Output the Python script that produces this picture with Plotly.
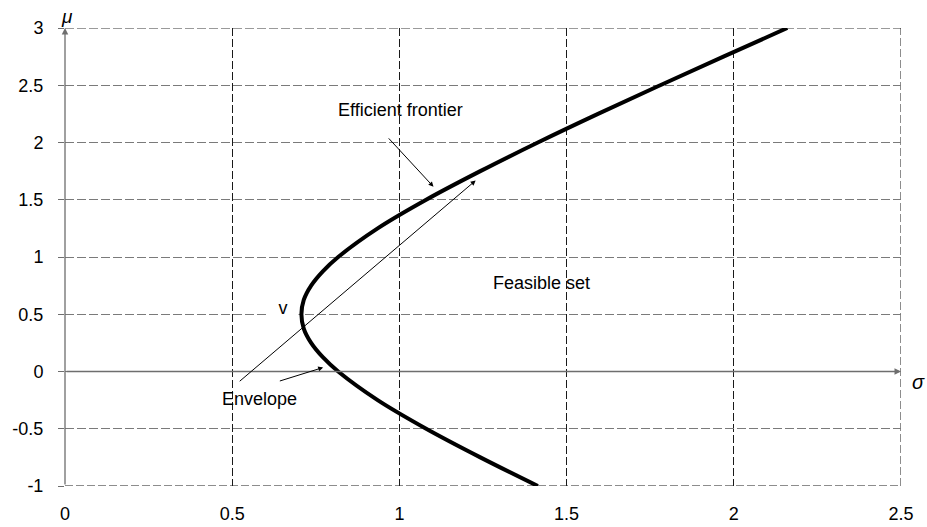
import plotly.graph_objects as go

# Envelope (minimum-variance frontier)
mu = [-1.0, -0.75, -0.5, -0.25, 0.0, 0.125, 0.25, 0.375, 0.5, 0.625, 0.75, 0.875,
      1.0, 1.25, 1.5, 1.75, 2.0, 2.25, 2.5, 2.75, 3.0]
sigma = [1.414, 1.242, 1.080, 0.935, 0.817, 0.771, 0.736, 0.714, 0.707, 0.714, 0.736, 0.771,
         0.817, 0.935, 1.080, 1.242, 1.414, 1.594, 1.780, 1.969, 2.160]

x_ticks = [0, 0.5, 1, 1.5, 2, 2.5]
x_tick_labels = ["0", "0.5", "1", "1.5", "2", "2.5"]
y_ticks = [-1, -0.5, 0, 0.5, 1, 1.5, 2, 2.5, 3]
y_tick_labels = ["-1", "-0.5", "0", "0.5", "1", "1.5", "2", "2.5", "3"]

FONT = "Liberation Sans, Arial, sans-serif"
FS = 18

fig = go.Figure()
fig.add_trace(go.Scatter(x=sigma, y=mu, mode="lines", line=dict(color="black", width=4, shape="spline"),
                         hoverinfo="skip", showlegend=False))

# edge grid lines (plotly drops grid lines on the range edges)
shapes = [
    dict(type="line", xref="x", yref="y", x0=x_ticks[0], x1=x_ticks[-1], y0=y_ticks[-1], y1=y_ticks[-1],
         line=dict(color="#7a7a7a", width=1.3, dash="9px,3px"), layer="below"),
    dict(type="line", xref="x", yref="y", x0=x_ticks[0], x1=x_ticks[-1], y0=y_ticks[0], y1=y_ticks[0],
         line=dict(color="#1a1a1a", width=1, dash="8px,3px"), layer="below"),
    dict(type="line", xref="x", yref="y", x0=x_ticks[-1], x1=x_ticks[-1], y0=y_ticks[0], y1=y_ticks[-1],
         line=dict(color="#1a1a1a", width=1, dash="8px,3px"), layer="below"),
]

annotations = []
# axes with arrows
annotations.append(dict(x=0, y=3, ax=0, ay=-1, xref="x", yref="y", axref="x", ayref="y", text="",
                        showarrow=True, arrowhead=2, arrowsize=1, arrowwidth=1.3, arrowcolor="#6e6e6e"))
annotations.append(dict(x=2.5, y=0, ax=0, ay=0, xref="x", yref="y", axref="x", ayref="y", text="",
                        showarrow=True, arrowhead=2, arrowsize=1, arrowwidth=1.3, arrowcolor="#6e6e6e"))
# pointer arrows
annotations.append(dict(x=1.102, y=1.613, ax=0.964, ay=2.049, xref="x", yref="y", axref="x", ayref="y", text="",
                        showarrow=True, arrowhead=2, arrowsize=1, arrowwidth=1, arrowcolor="black"))
annotations.append(dict(x=1.228, y=1.668, ax=0.518, ay=-0.096, xref="x", yref="y", axref="x", ayref="y", text="",
                        showarrow=True, arrowhead=2, arrowsize=1, arrowwidth=1, arrowcolor="black"))
annotations.append(dict(x=0.772, y=0.035, ax=0.638, ay=-0.087, xref="x", yref="y", axref="x", ayref="y", text="",
                        showarrow=True, arrowhead=2, arrowsize=1, arrowwidth=1, arrowcolor="black"))


def txt(x, y, s, ref="x", size=FS, **kw):
    d = dict(x=x, y=y, xref=ref, yref=("y" if ref == "x" else "paper"), text=s, showarrow=False,
             xanchor="center", yanchor="middle",
             font=dict(family=FONT, size=size, color="black"))
    d.update(kw)
    return d


annotations.append(txt(1.003, 2.284, "Efficient frontier"))
annotations.append(txt(1.425, 0.776, "Feasible set"))
annotations.append(txt(0.581, -0.244, "Envelope"))
annotations.append(txt(0.653, 0.558, "v", bgcolor="white", borderpad=3, width=24))
annotations.append(txt(0.002, 1.026, "<i>μ</i>", ref="paper", size=19))
annotations.append(txt(1.0215, 0.227, "<i>σ</i>", ref="paper", size=20))

fig.update_layout(
    width=927, height=527,
    margin=dict(l=65, r=26, t=28, b=41),
    plot_bgcolor="white", paper_bgcolor="white",
    annotations=annotations,
    shapes=shapes,
    xaxis=dict(range=[0, 2.5], tickvals=x_ticks, ticktext=x_tick_labels,
               showgrid=True, gridcolor="#1a1a1a", gridwidth=1, griddash="8px,3px",
               zeroline=False, showline=False, ticks="", ticklabelstandoff=15, automargin=False,
               tickfont=dict(family=FONT, size=FS, color="black")),
    yaxis=dict(range=[-1, 3], tickvals=y_ticks, ticktext=y_tick_labels,
               showgrid=True, gridcolor="#7a7a7a", gridwidth=1.3, griddash="9px,3px",
               zeroline=False, showline=False, ticks="outside", ticklen=6, tickcolor="#6e6e6e",
               ticklabelstandoff=11, automargin=False,
               tickfont=dict(family=FONT, size=FS, color="black")),
)

# remove the default page margin so the 927x527 figure fills the window exactly
fig.write_html("out.html", config={"displayModeBar": False},
               post_script="document.body.style.margin='0';")
